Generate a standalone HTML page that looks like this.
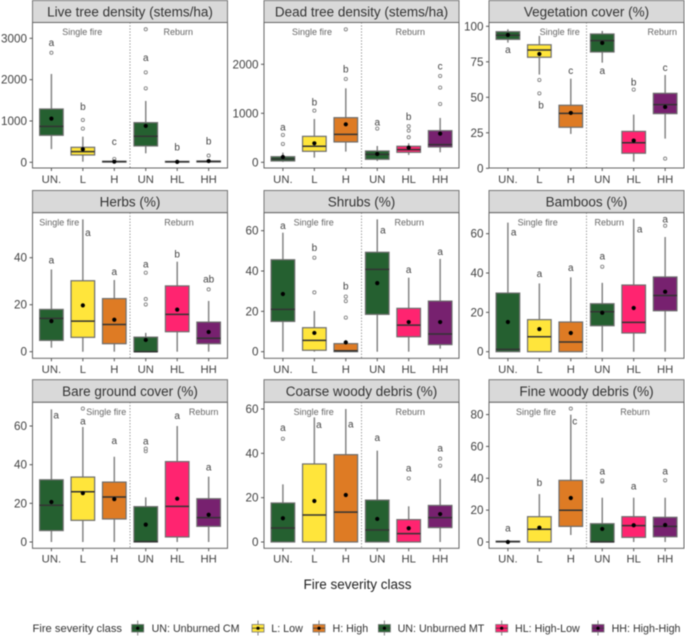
<!DOCTYPE html>
<html lang="en">
<head>
<meta charset="utf-8">
<title>Fire severity class boxplots</title>
<style>
html,body{margin:0;padding:0;background:#fff;}
svg{display:block;font-family:"Liberation Sans",Arial,sans-serif;filter:blur(0.45px);}
</style>
</head>
<body>
<svg id="chart" xmlns="http://www.w3.org/2000/svg" width="685" height="636" viewBox="0 0 685 636">
  <rect x="0" y="0" width="685" height="636" fill="#ffffff"/>
  <g id="panels"></g>
  <text x="357.5" y="588.8" font-size="13.5" fill="#222" text-anchor="middle">Fire severity class</text>
  <g id="legend">
    <text x="32.5" y="632" font-size="11.2" fill="#333">Fire severity class</text>
  </g>
</svg>
<script>
const panelTitles = ["Live tree density (stems/ha)","Dead tree density (stems/ha)","Vegetation cover (%)","Herbs (%)","Shrubs (%)","Bamboos (%)","Bare ground cover (%)","Coarse woody debris (%)","Fine woody debris (%)"];
const categories = ["UN.","L","H","UN","HL","HH"];
const groupLabels = ["Single fire","Reburn"];
const yTicks = [[0,1000,2000,3000],[0,1000,2000],[0,25,50,75,100],[0,20,40],[0,20,40,60],[0,20,40,60],[0,20,40,60],[0,20,40,60],[0,20,40,60,80]];
const whiskerLow = [
 [320,15,0,218,0,0],[7,95,218,27,150,204],[88.5,66,24.2,74.4,4.7,20.9],
 [1.7,0,0,0,0,0],[0,0,0,0,0,1.5],[0,0,0,0,0,0],
 [0,0,0,0,0,0],[0,0,0,0,0,0],[0,0,4.4,0,0,0]];
const boxLow = [
 [653,177,5,395,3,8],[27,224,415,61,204,313],[90.8,78.2,28.9,81.9,10.6,38.5],
 [4.8,6.1,3.4,0,8.5,3.4],[15,0.7,0,18.5,7.4,3.5],[0,0,0,13.2,9.5,20.8],
 [5.9,11.2,11.9,0,2.6,8.1],[0,0,0,0,0,6.5],[0,0,9.8,0,2.9,3.3]];
const medians = [
 [870,258,15,630,12,20],[68,327,571,163,258,360],[93.7,83.3,38.7,89.9,18,44.8],
 [14.2,13,11.6,0,15.9,5.7],[21,5.6,0.5,40.8,13.2,8.8],[1.2,7.6,4.9,20.3,14.9,28.6],
 [19,26,23.3,0.2,18.4,12.6],[6.3,12.2,13.5,5.4,3.8,11],[0.2,8,19.9,0.1,10.3,9.8]];
const boxHigh = [
 [1290,363,25,960,22,32],[115,530,911,231,327,646],[96.2,87,44.4,94.6,26,52.8],
 [18,30.2,22.6,6.2,28,12.6],[45.6,11.9,4,49.3,21.5,25.1],[29.8,16.3,15.1,24.4,33.9,38],
 [32.2,33.6,31,18.3,41.6,22.4],[17.6,35.2,39.4,18.9,10.1,16.5],[0.5,15.9,38.7,11.5,15.9,15.5]];
const whiskerHigh = [
 [2137,620,30,1484,25,40],[197,884,1510,333,388,905],[97.9,93.2,63.1,96.7,37.8,65.7],
 [35,56.3,30.5,8,38.3,21.6],[59,20.2,5.8,65.6,36.7,46],[65.6,34.7,37.8,35,67.5,58.3],
 [68.6,59.5,44.1,23.1,60,33.8],[26,56.2,60,41.2,16.1,28.4],[0.5,30.1,79.9,27.8,27.8,27.8]];
const means = [
 [1056,315,15,880,10,30],[109,388,775,170,299,585],[93.9,80.5,39,88.3,19.5,43.2],
 [13,19.7,13.6,5,17.9,8.4],[28.6,9.3,4.6,34,14.7,14.7],[15.1,11.5,9.5,19.8,22.2,30.5],
 [20.7,25.3,22.2,9,22.4,14.1],[10.7,18.5,21.2,10.4,6.2,12.6],[0,9,27.6,8.2,10.5,10.7]];
const outliers = [
 [[2650],[815,1024],[80],[1790,2177,3218],[],[160]],
 [[374,558],[1054],[1700,2714],[687],[510,646,735],[1190,1524,1762]],
 [[],[62.2,52.8],[],[],[55.4],[6.8]],
 [[],[],[],[20.1,22.4,33.6],[],[26.5]],
 [[],[29.4,46.6],[16.9,25.1,27.3],[],[],[]],
 [[],[],[],[43.2],[],[64]],
 [[],[69],[],[47,48.3],[],[]],
 [[46.6],[],[],[],[28.7],[34.4,37.6]],
 [[],[],[83.7],[37.9,38.7],[],[38.7]]];
const letters = [
 ["a","b","c","a","b","b"],["a","b","b","a","b","c"],["a","b","c","a","b","c"],
 ["a","a","a","a","b","ab"],["a","b","b","a","a","a"],["a","a","a","a","a","a"],
 ["a","a","a","a","a","a"],["a","a","a","a","a","a"],["a","b","c","a","a","a"]];
const letterLevels = [
 [2900,1347,500,2532,370,508],[721,1224,1905,823,932,1959],[83.6,44.6,68.8,68.8,60.8,70.9],
 [39,50.6,34,37.2,41.6,30.8],[62.6,51.6,32.6,60.3,40.7,49.6],[60.7,39.8,42.7,48.6,62.4,67.5],
 [65.7,62.6,52.4,52.2,65.3,38.8],[51.7,52.9,53.2,47.2,33.4,42.3],[8.8,37.4,75.9,44.6,35,44.6]];
const legendEntries = ["UN: Unburned CM","L: Low","H: High","UN: Unburned MT","HL: High-Low","HH: High-High"];

/* ---------- layout (no data below) ---------- */
const fills = ["#256030","#FFE53B","#DE7B24","#256030","#FF2470","#77216F"];
const columns = [32.5,264,489];
const rows = [
  {stripTop:0.5,stripBottom:22.5,bottom:168,zero:162.3,tickY:183},
  {stripTop:190.5,stripBottom:212.7,bottom:358.3,zero:351.7,tickY:373},
  {stripTop:379.7,stripBottom:402.3,bottom:548.3,zero:542,tickY:562.5}];
const pxPerUnit = [0.04133,0.049,1.42,2.35,2.017,1.967,1.933,2.217,1.593];
const groupLabelX = [[82.3,178.3],[312,410.3],[559.7,662.3],[59.3,179],[313.7,409.3],[537.7,609.3],[106.3,203.7],[313.7,410.3],[536,635]];
const letterShift = {"2-1":1.7,"3-1":5,"4-3":5.7,"5-0":5.7,"5-4":6,"6-0":4.7,"7-1":4.5,"7-2":5,"8-2":4};
const legendKeyX = [137.7,258,319,384.4,501.7,598];
const legendTextX = [151.6,271.3,332.5,397.6,515,611.6];
const PANEL_W = 195, STEP = 31.45, FIRST = 18.9, BOX_W = 23.6;
const NS = "http://www.w3.org/2000/svg";

function make(parent, tag, attrs, text){
  const el = document.createElementNS(NS, tag);
  for (const k in attrs) el.setAttribute(k, attrs[k]);
  if (text !== undefined) el.textContent = text;
  parent.appendChild(el);
  return el;
}
function xScale(p, i){ return columns[p % 3] + FIRST + i * STEP; }
function yScale(p, v){
  const zero = p === 2 ? 168.3 : rows[Math.floor(p / 3)].zero;
  return zero - v * pxPerUnit[p];
}

const root = document.getElementById("panels");
panelTitles.forEach(function(title, p){
  const x0 = columns[p % 3], row = rows[Math.floor(p / 3)];
  const g = make(root, "g", {});
  
  

  const strip = make(g, "rect", {x:x0, y:row.stripTop, width:PANEL_W, height:row.stripBottom-row.stripTop, fill:"#d9d9d9", stroke:"#777", "stroke-width":1});
  
  
  const stripText = make(g, "text", {x:x0+PANEL_W/2, y:(row.stripTop+row.stripBottom)/2+4.8, "font-size":13.5, fill:"#333", "text-anchor":"middle"}, title);
  
  

  const frame = make(g, "rect", {x:x0, y:row.stripBottom, width:PANEL_W, height:row.bottom-row.stripBottom, fill:"#fff", stroke:"#666", "stroke-width":1});
  
  

  const divider = make(g, "line", {x1:x0+PANEL_W/2, x2:x0+PANEL_W/2, y1:row.stripBottom, y2:row.bottom, stroke:"#777", "stroke-width":1, "stroke-dasharray":"1 2"});
  
  

  groupLabels.forEach(function(label, k){
    const t = make(g, "text", {x:groupLabelX[p][k], y:row.stripBottom+12.6, "font-size":9, fill:"#666", "text-anchor":"middle"}, label);
    
    
  });

  yTicks[p].forEach(function(v){
    const y = yScale(p, v);
    const mark = make(g, "line", {x1:x0-3, x2:x0, y1:y, y2:y, stroke:"#555", "stroke-width":1});
    
    
    const t = make(g, "text", {x:x0-5.5, y:y+4, "font-size":11.7, fill:"#444", "text-anchor":"end"}, v);
    
    
  });

  categories.forEach(function(cat, i){
    const x = xScale(p, i);
    const mark = make(g, "line", {x1:x, x2:x, y1:row.bottom, y2:row.bottom+3, stroke:"#555", "stroke-width":1});
    
    
    const t = make(g, "text", {x:x, y:row.tickY, "font-size":11.3, fill:"#444", "text-anchor":"middle"}, cat);
    
    

    const box = make(g, "g", {});
    
    
    const whisker = make(box, "line", {x1:x, x2:x, y1:yScale(p, whiskerLow[p][i]), y2:yScale(p, whiskerHigh[p][i]), stroke:"#858585", "stroke-width":1.5});
    
    
    const top = yScale(p, boxHigh[p][i]), bot = yScale(p, boxLow[p][i]);
    const rect = make(box, "rect", {x:x-BOX_W/2, y:top, width:BOX_W, height:Math.max(bot-top,0.3), fill:fills[i], stroke:"#6e6e6e", "stroke-width":1.2});
    
    
    const my = yScale(p, medians[p][i]);
    const med = make(box, "line", {x1:x-BOX_W/2, x2:x+BOX_W/2, y1:my, y2:my, stroke:"#333", "stroke-width":1.5});
    
    
    outliers[p][i].forEach(function(v){
      const c = make(box, "circle", {cx:x, cy:yScale(p, v), r:1.6, fill:"#fff", stroke:"#777", "stroke-width":0.8});
      
      
    });
    const mean = make(box, "circle", {cx:x, cy:yScale(p, means[p][i]), r:2.1, fill:"#000"});
    
    
    const sig = make(box, "text", {x:x+(letterShift[p+"-"+i]||0), y:yScale(p, letterLevels[p][i])+3.4, "font-size":10, fill:"#444", "text-anchor":"middle"}, letters[p][i]);
    
    
  });
});

const legend = document.getElementById("legend");
legendEntries.forEach(function(label, i){
  const x = legendKeyX[i];
  const g = make(legend, "g", {});
  
  
  const wh = make(g, "line", {x1:x, x2:x, y1:620.5, y2:635.5, stroke:"#808080", "stroke-width":1});
  
  
  const key = make(g, "rect", {x:x-6, y:624.5, width:12, height:7.5, fill:fills[i], stroke:"#777", "stroke-width":0.8});
  
  
  const line = make(g, "line", {x1:x-6, x2:x+6, y1:628.2, y2:628.2, stroke:"#3a3a3a", "stroke-width":0.8});
  
  
  const dot = make(g, "circle", {cx:x, cy:628.2, r:1.6, fill:"#000"});
  
  
  const t = make(g, "text", {x:legendTextX[i], y:632, "font-size":10.7, fill:"#333"}, label);
  
  
});
</script>
</body>
</html>
